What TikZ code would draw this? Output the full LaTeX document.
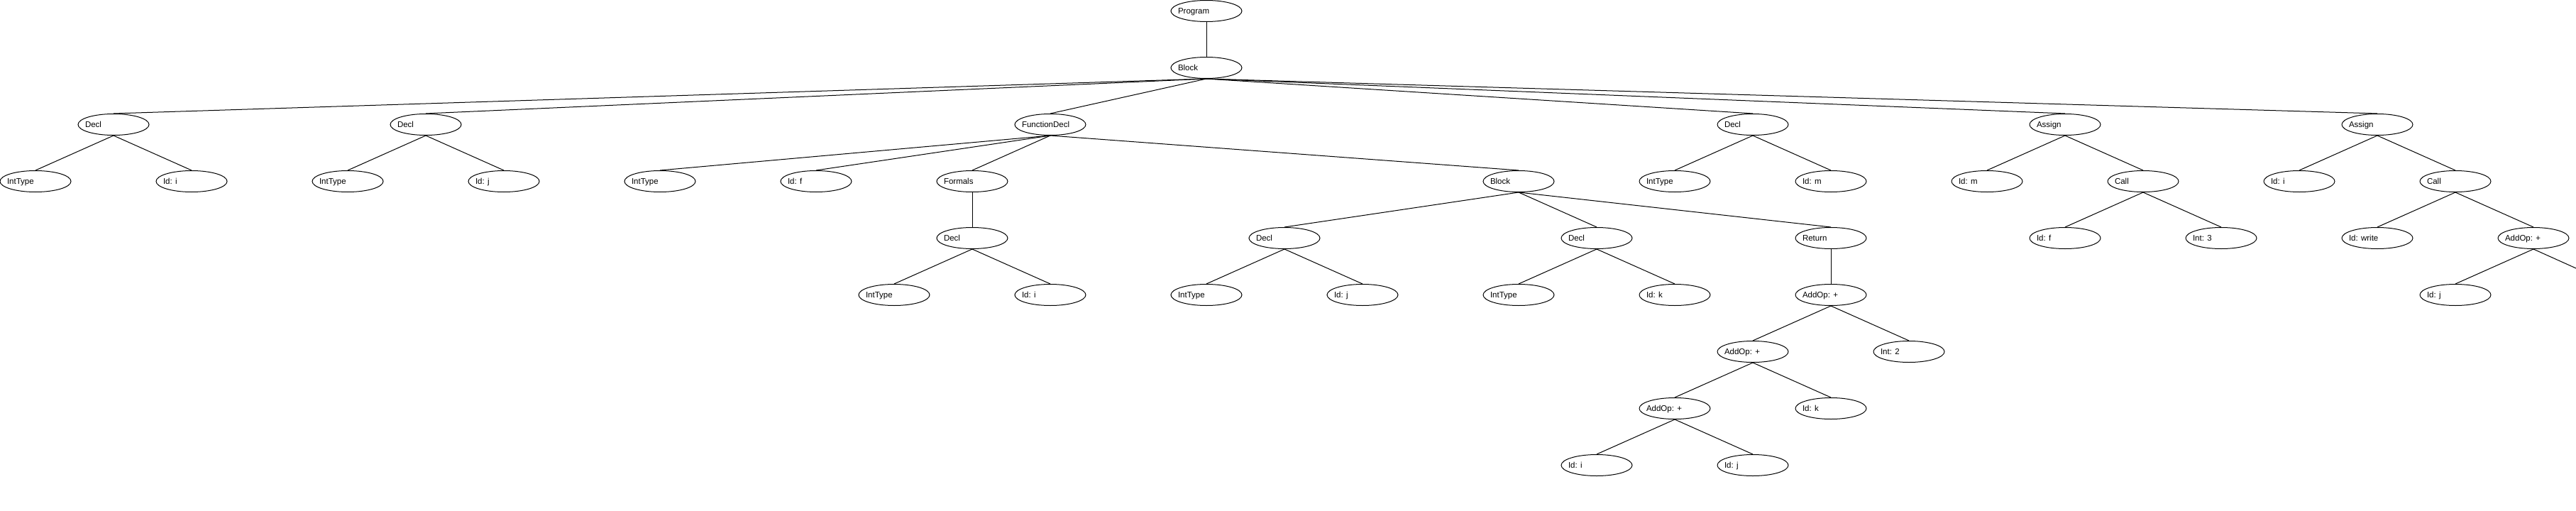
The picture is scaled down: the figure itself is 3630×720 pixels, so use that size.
\documentclass[tikz,border=0pt]{standalone}
\usepackage{fontspec}
\setmainfont{Liberation Sans}
\usetikzlibrary{shapes.geometric}
\tikzset{
  astnode/.style={draw, ellipse, minimum width=100pt, minimum height=30pt,
    text width=80pt, text height=8.2pt, text depth=0pt,
    inner xsep=-5pt, inner ysep=0pt, align=flush left,
    font=\fontsize{11.5}{13}\selectfont},
}
\begin{document}
\begin{tikzpicture}[x=1pt,y=-1pt,line width=1pt]
        \useasboundingbox (0,0) rectangle (3630,720);
        % root
        \node[astnode] (prog) at (1700,15.5) {Program};
        \node[astnode] (blk) at (1700,95.5) {Block};
        % top level statements
        \node[astnode] (decli) at (160,175.5) {Decl};
        \node[astnode] (declj) at (600,175.5) {Decl};
        \node[astnode] (fdecl) at (1480,175.5) {FunctionDecl};
        \node[astnode] (declm) at (2470,175.5) {Decl};
        \node[astnode] (asgm) at (2910,175.5) {Assign};
        \node[astnode] (asgi) at (3350,175.5) {Assign};
        % level 3
        \node[astnode] (typei) at (50,255.5) {IntType};
        \node[astnode] (idi) at (270,255.5) {Id: i};
        \node[astnode] (typej) at (490,255.5) {IntType};
        \node[astnode] (idj) at (710,255.5) {Id: j};
        \node[astnode] (ftype) at (930,255.5) {IntType};
        \node[astnode] (idf) at (1150,255.5) {Id: f};
        \node[astnode] (formals) at (1370,255.5) {Formals};
        \node[astnode] (fblk) at (2140,255.5) {Block};
        \node[astnode] (typem) at (2360,255.5) {IntType};
        \node[astnode] (idm) at (2580,255.5) {Id: m};
        \node[astnode] (lhsm) at (2800,255.5) {Id: m};
        \node[astnode] (callf) at (3020,255.5) {Call};
        \node[astnode] (lhsi) at (3240,255.5) {Id: i};
        \node[astnode] (callw) at (3460,255.5) {Call};
        % level 4
        \node[astnode] (pdecl) at (1370,335.5) {Decl};
        \node[astnode] (ldeclj) at (1810,335.5) {Decl};
        \node[astnode] (ldeclk) at (2250,335.5) {Decl};
        \node[astnode] (ret) at (2580,335.5) {Return};
        \node[astnode] (fname) at (2910,335.5) {Id: f};
        \node[astnode] (arg3) at (3130,335.5) {Int: 3};
        \node[astnode] (wname) at (3350,335.5) {Id: write};
        \node[astnode] (addw) at (3570,335.5) {AddOp: +};
        % level 5
        \node[astnode] (ptype) at (1260,415.5) {IntType};
        \node[astnode] (pid) at (1480,415.5) {Id: i};
        \node[astnode] (ltypej) at (1700,415.5) {IntType};
        \node[astnode] (lidj) at (1920,415.5) {Id: j};
        \node[astnode] (ltypek) at (2140,415.5) {IntType};
        \node[astnode] (lidk) at (2360,415.5) {Id: k};
        \node[astnode] (adda) at (2580,415.5) {AddOp: +};
        \node[astnode] (widj) at (3460,415.5) {Id: j};
        \coordinate (wright) at (3680,400.5);
        % return expression
        \node[astnode] (addb) at (2470,495.5) {AddOp: +};
        \node[astnode] (int2) at (2690,495.5) {Int: 2};
        \node[astnode] (addc) at (2360,575.5) {AddOp: +};
        \node[astnode] (sumk) at (2580,575.5) {Id: k};
        \node[astnode] (sumi) at (2250,655.5) {Id: i};
        \node[astnode] (sumj) at (2470,655.5) {Id: j};
        % edges
        \draw (prog.south) -- (blk.north);
        \draw (blk.south) -- (decli.north);
        \draw (blk.south) -- (declj.north);
        \draw (blk.south) -- (fdecl.north);
        \draw (blk.south) -- (declm.north);
        \draw (blk.south) -- (asgm.north);
        \draw (blk.south) -- (asgi.north);
        \draw (decli.south) -- (typei.north);
        \draw (decli.south) -- (idi.north);
        \draw (declj.south) -- (typej.north);
        \draw (declj.south) -- (idj.north);
        \draw (fdecl.south) -- (ftype.north);
        \draw (fdecl.south) -- (idf.north);
        \draw (fdecl.south) -- (formals.north);
        \draw (fdecl.south) -- (fblk.north);
        \draw (declm.south) -- (typem.north);
        \draw (declm.south) -- (idm.north);
        \draw (asgm.south) -- (lhsm.north);
        \draw (asgm.south) -- (callf.north);
        \draw (asgi.south) -- (lhsi.north);
        \draw (asgi.south) -- (callw.north);
        \draw (formals.south) -- (pdecl.north);
        \draw (fblk.south) -- (ldeclj.north);
        \draw (fblk.south) -- (ldeclk.north);
        \draw (fblk.south) -- (ret.north);
        \draw (callf.south) -- (fname.north);
        \draw (callf.south) -- (arg3.north);
        \draw (callw.south) -- (wname.north);
        \draw (callw.south) -- (addw.north);
        \draw (pdecl.south) -- (ptype.north);
        \draw (pdecl.south) -- (pid.north);
        \draw (ldeclj.south) -- (ltypej.north);
        \draw (ldeclj.south) -- (lidj.north);
        \draw (ldeclk.south) -- (ltypek.north);
        \draw (ldeclk.south) -- (lidk.north);
        \draw (ret.south) -- (adda.north);
        \draw (addw.south) -- (widj.north);
        \draw (addw.south) -- (wright);
        \draw (adda.south) -- (addb.north);
        \draw (adda.south) -- (int2.north);
        \draw (addb.south) -- (addc.north);
        \draw (addb.south) -- (sumk.north);
        \draw (addc.south) -- (sumi.north);
        \draw (addc.south) -- (sumj.north);
\end{tikzpicture}
\end{document}
